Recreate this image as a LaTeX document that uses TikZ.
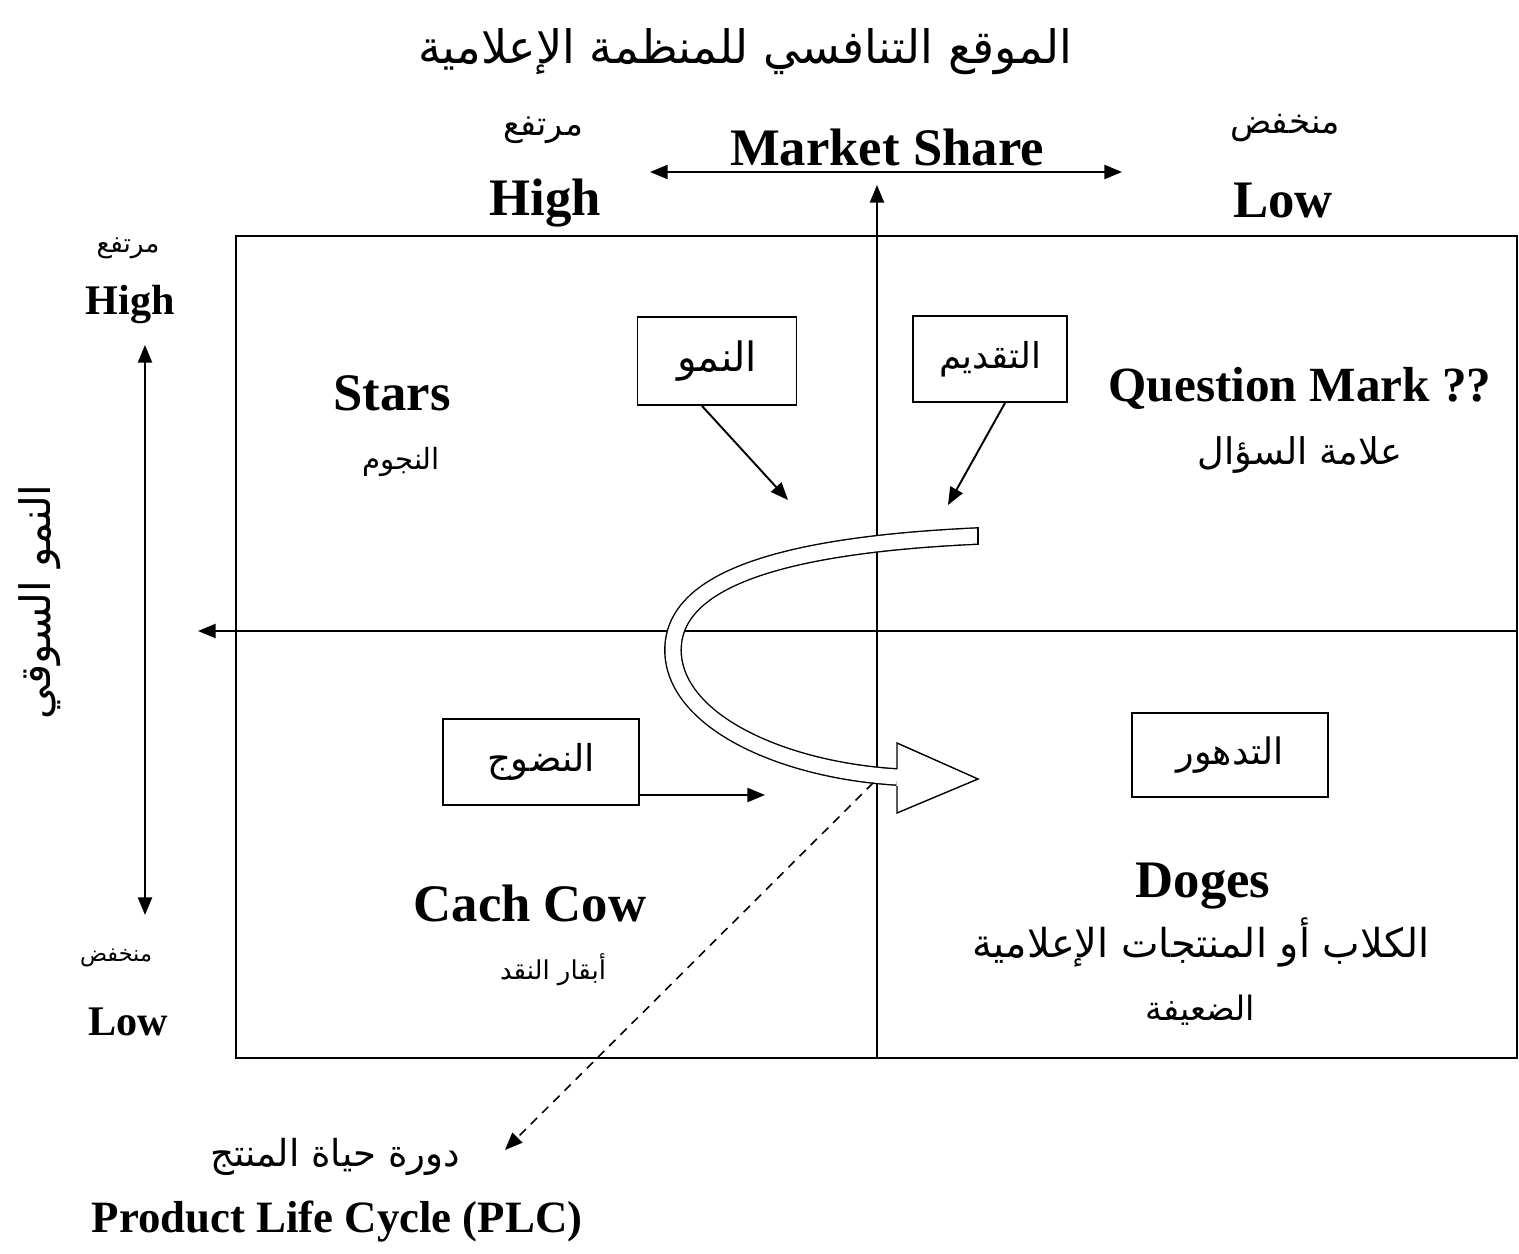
\documentclass[tikz,border=0pt]{standalone}
\usepackage{fontspec}
\setmainfont{Liberation Serif}
\newfontfamily\arabicfont[Script=Arabic]{DejaVu Sans}
\TeXXeTstate=1
\usetikzlibrary{arrows.meta}
\newcommand\arfit[2]{\resizebox{#1}{!}{\arabicfont #2}}
\tikzset{
  ln/.style={line width=1.1pt},
  tipend/.style={-{Triangle[length=10pt,width=8pt]}},
  tipboth/.style={{Triangle[length=10pt,width=8pt]}-{Triangle[length=10pt,width=8pt]}},
  box/.style={draw, line width=1.1pt, inner sep=0pt},
  en/.style={font=\bfseries\fontsize{30}{36}\selectfont},
  enq/.style={font=\bfseries\fontsize{28}{34}\selectfont},
  ens/.style={font=\bfseries\fontsize{24}{29}\selectfont},
  enp/.style={font=\bfseries\fontsize{25.5}{30}\selectfont},
}
\begin{document}
\begin{tikzpicture}[x=0.02cm,y=-0.02cm]
\useasboundingbox (0,0) rectangle (1519,1254);
% title and top labels
\node (title) at (745,52) {\arfit{13.08cm}{\beginR الموقع التنافسي للمنظمة الإعلامية\endR}};
\node (hiAr) at (543,130) {\arfit{1.6cm}{\beginR مرتفع\endR}};
\node[en] (hiEn) at (545,203) {High};
\node[en] (ms) at (887,147) {Market Share};
\node (loAr) at (1285,128) {\arfit{2.2cm}{\beginR منخفض\endR}};
\node[en] (loEn) at (1283,200) {Low};
\coordinate (msL) at (650,172);
\coordinate (msR) at (1122,172);
\draw[ln,tipboth] (msL) -- (msR);
% frame and axes
\draw[ln] (236,236) rectangle (1517,1058);
\coordinate (vTop) at (877,185);
\coordinate (vBot) at (877,1058);
\draw[ln,tipend] (vBot) -- (vTop);
\coordinate (hR) at (1517,631);
\coordinate (hL) at (198,631);
\draw[ln,tipend] (hR) -- (hL);
% left labels
\node (lhiAr) at (128,248) {\arfit{1.26cm}{\beginR مرتفع\endR}};
\node[ens] (lhiEn) at (130,305) {High};
\node (lloAr) at (116,958) {\arfit{1.44cm}{\beginR منخفض\endR}};
\node[ens] (lloEn) at (128,1022) {Low};
\coordinate (lvT) at (145,345);
\coordinate (lvB) at (145,915);
\draw[ln,tipboth] (lvT) -- (lvB);
\node[rotate=90] (growth) at (40,602) {\arfit{4.7cm}{\beginR النمو السوقي\endR}};
% quadrant labels
\node[en] (stars) at (392,393) {Stars};
\node (starsAr) at (401,462) {\arfit{1.56cm}{\beginR النجوم\endR}};
\node[enq] (qm) at (1300,388) {Question Mark ??};
\node (qmAr) at (1300,455) {\arfit{4.1cm}{\beginR علامة السؤال\endR}};
\node[en] (cow) at (530,903) {Cach Cow};
\node (cowAr) at (553,970) {\arfit{2.12cm}{\beginR أبقار النقد\endR}};
\node[en] (dog) at (1203,886) {Doges};
\node (dogAr1) at (1201,942) {\arfit{9.14cm}{\beginR الكلاب أو المنتجات الإعلامية\endR}};
\node (dogAr2) at (1200,1010) {\arfit{2.2cm}{\beginR الضعيفة\endR}};
% stage boxes
\node[box, minimum width=3.18cm, minimum height=1.76cm] (nmu) at (717,361) {\arfit{1.6cm}{\beginR النمو\endR}};
\node[box, minimum width=3.08cm, minimum height=1.72cm] (tqd) at (990,359) {\arfit{2.04cm}{\beginR التقديم\endR}};
\node[box, minimum width=3.92cm, minimum height=1.72cm] (ndj) at (541,762) {\arfit{2.16cm}{\beginR النضوج\endR}};
\node[box, minimum width=3.92cm, minimum height=1.68cm] (tdh) at (1230,755) {\arfit{2.14cm}{\beginR التدهور\endR}};
\coordinate (nmuTip) at (788,500);
\draw[ln,tipend] ([xshift=-0.3cm]nmu.south) -- (nmuTip);
\coordinate (tqdTip) at (948,505);
\draw[ln,tipend] ([xshift=0.3cm]tqd.south) -- (tqdTip);
\coordinate (ndjTip) at (765,795);
\draw[ln,tipend] ([yshift=-0.66cm]ndj.east) -- (ndjTip);
% big hollow curved arrow
\coordinate (cS) at (978,536);
\coordinate (cM) at (673,650);
\coordinate (cE) at (897,777);
\draw[line width=0.8pt, double=white, double distance=8.5pt]
  (cS) .. controls (780,545) and (673,580) .. (cM)
       .. controls (673,720) and (780,770) .. (cE);
\draw[line width=0.8pt] (978,527) -- (978,545);
\fill[white] (897,743) -- (978,779) -- (897,813) -- cycle;
\draw[line width=0.8pt] (897,769) -- (897,743) -- (978,779) -- (897,813) -- (897,786);
% PLC pointer
\coordinate (plcFrom) at (873,783);
\coordinate (plcTo) at (505,1150);
\draw[line width=0.9pt, dash pattern=on 5pt off 4pt, tipend] (plcFrom) -- (plcTo);
\node (plcAr) at (335,1157) {\arfit{5cm}{\beginR دورة حياة المنتج\endR}};
\node[enp] (plcEn) at (337,1222) {Product Life Cycle (PLC)};
\end{tikzpicture}
\end{document}
